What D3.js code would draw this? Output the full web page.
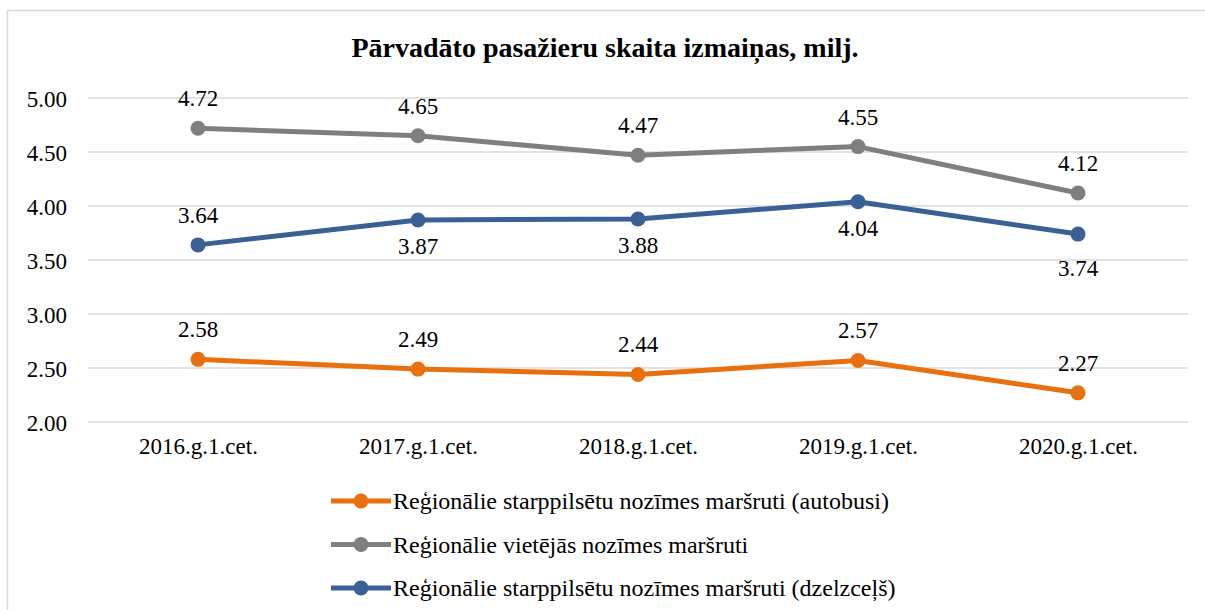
<!DOCTYPE html>
<html>
<head>
<meta charset="utf-8">
<script src="https://cdn.jsdelivr.net/npm/d3@7"></script>
<style>
  body { margin: 0; background: #fff; }
</style>
</head>
<body>
<div id="chart"></div>
<script>
var categories = ["2016.g.1.cet.", "2017.g.1.cet.", "2018.g.1.cet.", "2019.g.1.cet.", "2020.g.1.cet."];
var autobusi = [2.58, 2.49, 2.44, 2.57, 2.27];
var vietejas = [4.72, 4.65, 4.47, 4.55, 4.12];
var dzelzcels = [3.64, 3.87, 3.88, 4.04, 3.74];
var yTicks = [2.00, 2.50, 3.00, 3.50, 4.00, 4.50, 5.00];
var seriesNames = [
  "Reģionālie starppilsētu nozīmes maršruti (autobusi)",
  "Reģionālie vietējās nozīmes maršruti",
  "Reģionālie starppilsētu nozīmes maršruti (dzelzceļš)"
];

var FONT = "'Liberation Serif', 'Times New Roman', serif";

// label placement: a = above, b = below, bb = further below
var series = [
  {name: seriesNames[0], values: autobusi, color: "#e8700f", labelPos: ["a","a","a","a","a"]},
  {name: seriesNames[1], values: vietejas, color: "#7f7f7f", labelPos: ["a","a","a","a","a"]},
  {name: seriesNames[2], values: dzelzcels, color: "#3b6096", labelPos: ["a","b","b","b","bb"]}
];
var labelOffset = {a: -22, b: 34, bb: 42};

var width = 1205, height = 610;
var margin = {top: 98, right: 17, bottom: 188, left: 88};

var svg = d3.select("#chart").append("svg")
    .attr("width", width)
    .attr("height", height)
    .style("font-family", FONT);

// chart frame
svg.append("rect")
    .attr("x", 7.5).attr("y", 10.5)
    .attr("width", 1210).attr("height", 620)
    .attr("fill", "none")
    .attr("stroke", "#d9d9d9")
    .attr("stroke-width", 1.5);

svg.append("text")
    .attr("x", 605).attr("y", 57)
    .attr("text-anchor", "middle")
    .style("font-family", FONT)
    .style("font-size", "28px")
    .style("font-weight", "bold")
    .text("Pārvadāto pasažieru skaita izmaiņas, milj.");

var x = d3.scalePoint()
    .domain(categories)
    .range([margin.left, width - margin.right])
    .padding(0.5);

var y = d3.scaleLinear()
    .domain([2, 5])
    .range([height - margin.bottom, margin.top]);

// gridlines
svg.append("g")
    .selectAll("line")
    .data(yTicks)
    .enter().append("line")
    .attr("x1", margin.left)
    .attr("x2", width - margin.right)
    .attr("y1", function(d) { return y(d); })
    .attr("y2", function(d) { return y(d); })
    .attr("stroke", "#d9d9d9")
    .attr("stroke-width", 1.5);

// y axis labels
var yAxis = svg.append("g")
    .attr("transform", "translate(" + (margin.left - 21) + ",0)")
    .call(d3.axisLeft(y).tickValues(yTicks).tickFormat(d3.format(".2f")).tickSize(0));
yAxis.select(".domain").remove();
yAxis.attr("font-family", null).attr("font-size", null);
yAxis.selectAll("text")
    .style("font-size", "23px")
    .style("font-family", FONT)
    .attr("fill", "#000")
    .attr("dy", "0.35em")
    .attr("x", 0);

// x axis labels
var xAxis = svg.append("g")
    .attr("transform", "translate(0," + (height - margin.bottom + 16) + ")")
    .call(d3.axisBottom(x).tickSize(0));
xAxis.select(".domain").remove();
xAxis.attr("font-family", null).attr("font-size", null);
xAxis.selectAll("text")
    .style("font-size", "23px")
    .style("font-family", FONT)
    .attr("fill", "#000")
    .attr("y", 0)
    .attr("dy", "0.71em");

var line = d3.line()
    .x(function(d, i) { return x(categories[i]); })
    .y(function(d) { return y(d); });

series.forEach(function(s) {
  var g = svg.append("g");
  g.append("path")
      .datum(s.values)
      .attr("d", line)
      .attr("fill", "none")
      .attr("stroke", s.color)
      .attr("stroke-width", 5)
      .attr("stroke-linejoin", "round");
  g.selectAll("circle")
      .data(s.values)
      .enter().append("circle")
      .attr("cx", function(d, i) { return x(categories[i]); })
      .attr("cy", function(d) { return y(d); })
      .attr("r", 7.5)
      .attr("fill", s.color);
  g.selectAll("text.lbl")
      .data(s.values)
      .enter().append("text")
      .attr("class", "lbl")
      .attr("x", function(d, i) { return x(categories[i]); })
      .attr("y", function(d, i) { return y(d) + labelOffset[s.labelPos[i]]; })
      .attr("text-anchor", "middle")
      .style("font-family", FONT)
      .style("font-size", "23px")
      .text(function(d) { return d3.format(".2f")(d); });
});

// legend
var legend = svg.append("g");
series.forEach(function(s, i) {
  var ly = 501 + i * 43.5;
  legend.append("line")
      .attr("x1", 331).attr("x2", 391)
      .attr("y1", ly).attr("y2", ly)
      .attr("stroke", s.color)
      .attr("stroke-width", 5);
  legend.append("circle")
      .attr("cx", 361).attr("cy", ly)
      .attr("r", 7.5)
      .attr("fill", s.color);
  legend.append("text")
      .attr("x", 393).attr("y", ly)
      .attr("dy", "0.35em")
      .style("font-family", FONT)
      .style("font-size", "24px")
      .text(s.name);
});
</script>
</body>
</html>
